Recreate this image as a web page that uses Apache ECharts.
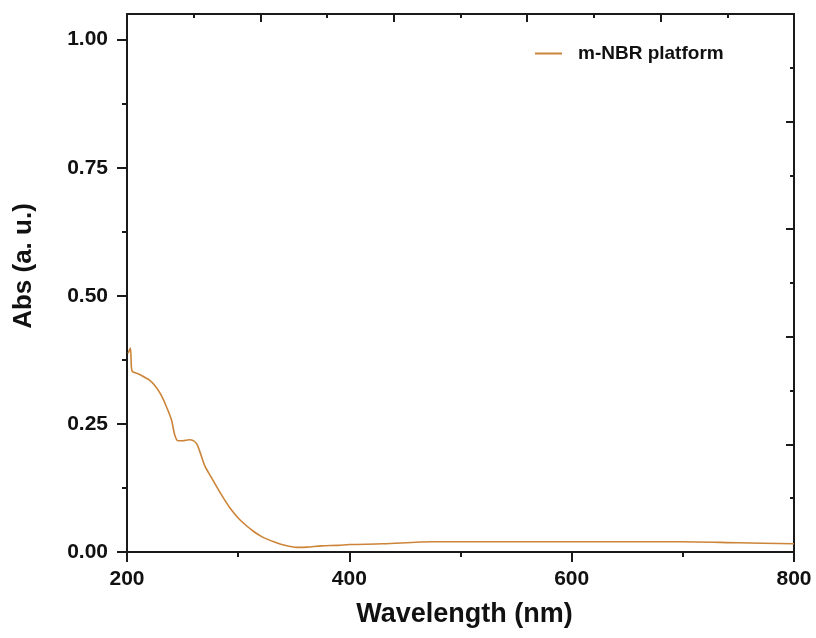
<!DOCTYPE html>
<html>
<head>
    <meta charset="UTF-8">
    <title>Abs</title>
    <script type="text/javascript" src="https://cdn.jsdelivr.net/npm/echarts@6/dist/echarts.min.js"></script>
</head>
<body style="margin:0;background:#fff;">
<div id="main" style="width: 816px;height:638px;"></div>
<script type="text/javascript">
    // 波长 / 吸光度
    var wavelength = [201, 203, 204, 205, 210, 215, 220, 225, 230, 235, 240, 243, 246, 250, 256, 260, 263, 266, 270, 276,
        284, 292, 302, 314, 322, 332, 342, 353, 362, 375, 390, 400, 430, 475, 550, 620, 697, 750, 800];
    var absorb = [0.388, 0.398, 0.36, 0.352, 0.348, 0.342, 0.336, 0.325, 0.309, 0.286, 0.258, 0.228, 0.217, 0.217, 0.219, 0.217, 0.21, 0.193, 0.168, 0.145,
        0.115, 0.088, 0.062, 0.040, 0.029, 0.020, 0.013, 0.009, 0.0095, 0.012, 0.013, 0.0145, 0.016, 0.020, 0.020, 0.020, 0.020, 0.018, 0.016];
    var yMajor = [0, 0.25, 0.5, 0.75, 1.0];
    var yMinor = [0.125, 0.375, 0.625, 0.875];
    var seriesName = 'm-NBR platform';

    var pts = [];
    for (var i = 0; i < wavelength.length; i++) {
        pts.push([wavelength[i], absorb[i]]);
    }

    var font = 'Arial, "Liberation Sans", sans-serif';
    var axisCol = '#1a1a1a';
    var myChart = echarts.init(document.getElementById('main'));

    var option = {
        animation: false,
        backgroundColor: '#fff',
        grid: {left: 127, right: 22, top: 14, bottom: 86},
        legend: {
            data: [{name: seriesName, icon: 'rect'}],
            left: 535, top: 44, padding: 0,
            itemWidth: 27, itemHeight: 2,
            textStyle: {fontFamily: font, fontWeight: 'bold', fontSize: 19, color: '#111', padding: [0, 0, 0, 11]}
        },
        xAxis: [
            {
                type: 'value', position: 'bottom',
                min: 200, max: 800, interval: 200,
                name: 'Wavelength (nm)', nameLocation: 'middle', nameGap: 49,
                nameTextStyle: {fontFamily: font, fontWeight: 'bold', fontSize: 27, color: '#111', padding: [0, 0, 0, 8]},
                axisLine: {show: true, onZero: false, lineStyle: {color: axisCol, width: 2}},
                axisTick: {show: true, inside: false, length: 10, lineStyle: {color: axisCol, width: 2}},
                minorTick: {show: true, splitNumber: 2, length: 5, lineStyle: {color: axisCol, width: 2}},
                axisLabel: {margin: 17, fontFamily: font, fontWeight: 'bold', fontSize: 21, color: '#111'},
                splitLine: {show: false}
            },
            {
                type: 'value', position: 'top',
                min: 200, max: 800, interval: 120,
                axisLine: {show: true, onZero: false, lineStyle: {color: axisCol, width: 2}},
                axisTick: {show: true, inside: true, length: 8, lineStyle: {color: axisCol, width: 2}},
                minorTick: {show: true, splitNumber: 2, length: 4, lineStyle: {color: axisCol, width: 2}},
                axisLabel: {show: false},
                splitLine: {show: false}
            }
        ],
        yAxis: [
            {
                type: 'value', position: 'left',
                min: 0, max: 1.05,
                name: 'Abs (a. u.)', nameLocation: 'middle', nameGap: 90,
                nameTextStyle: {fontFamily: font, fontWeight: 'bold', fontSize: 26, color: '#111', padding: [0, 0, 0, 34]},
                axisLine: {show: true, onZero: false, lineStyle: {color: axisCol, width: 2}},
                axisTick: {show: true, inside: false, length: 10, customValues: yMajor, lineStyle: {color: axisCol, width: 2}},
                axisLabel: {
                    customValues: yMajor, margin: 19,
                    fontFamily: font, fontWeight: 'bold', fontSize: 21, color: '#111',
                    formatter: function (v) { return v.toFixed(2); }
                },
                splitLine: {show: false}
            },
            {
                type: 'value', position: 'left',
                min: 0, max: 1.05,
                axisLine: {show: false, onZero: false},
                axisTick: {show: true, inside: false, length: 5, customValues: yMinor, lineStyle: {color: axisCol, width: 2}},
                axisLabel: {show: false},
                splitLine: {show: false}
            },
            {
                type: 'value', position: 'right',
                min: 0, max: 1.05, interval: 0.21,
                axisLine: {show: true, onZero: false, lineStyle: {color: axisCol, width: 2}},
                axisTick: {show: true, inside: true, length: 8, lineStyle: {color: axisCol, width: 2}},
                minorTick: {show: true, splitNumber: 2, length: 4, lineStyle: {color: axisCol, width: 2}},
                axisLabel: {show: false},
                splitLine: {show: false}
            }
        ],
        series: [
            {
                name: seriesName,
                type: 'line',
                xAxisIndex: 0, yAxisIndex: 0,
                smooth: 0.3,
                symbol: 'none',
                data: pts,
                itemStyle: {color: '#CC8438'},
                lineStyle: {color: '#CC8438', width: 1.6}
            }
        ]
    };

    myChart.setOption(option);
</script>
</body>
</html>
